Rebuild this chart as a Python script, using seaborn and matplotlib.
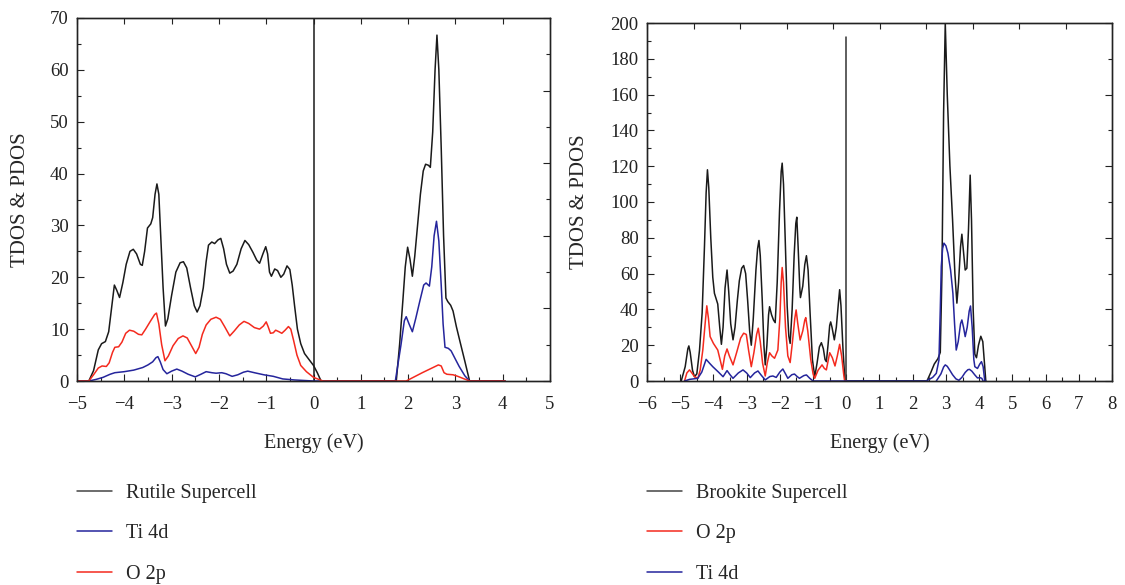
import matplotlib
matplotlib.use("Agg")
import matplotlib.pyplot as plt
from matplotlib.ticker import MultipleLocator, NullFormatter
from matplotlib.lines import Line2D
import seaborn as sns
import pandas as pd

# ---------------- data (Energy eV, DOS) ----------------
rutile_total = [(-5.0, 0), (-4.75, 0), (-4.65, 2.0), (-4.55, 6.0), (-4.48, 7.2), (-4.40, 7.6), (-4.33, 9.5),
    (-4.27, 14), (-4.21, 18.5), (-4.16, 17.5), (-4.10, 16.1), (-4.03, 19), (-3.96, 22.5), (-3.88, 25),
    (-3.81, 25.4), (-3.74, 24.5), (-3.66, 22.5), (-3.62, 22.3), (-3.57, 25), (-3.51, 29.5), (-3.44, 30.3),
    (-3.40, 31.5), (-3.35, 36), (-3.31, 38), (-3.27, 36), (-3.23, 28), (-3.18, 18), (-3.13, 10.6),
    (-3.08, 12), (-3.00, 16.5), (-2.91, 21), (-2.82, 22.8), (-2.75, 23), (-2.68, 21.8), (-2.60, 18),
    (-2.52, 14.5), (-2.46, 13.3), (-2.40, 14.5), (-2.33, 18), (-2.27, 23), (-2.22, 26.2), (-2.15, 26.8),
    (-2.09, 26.5), (-2.02, 27.2), (-1.96, 27.5), (-1.90, 25.5), (-1.84, 22.5), (-1.77, 20.8), (-1.70, 21.2),
    (-1.62, 22.5), (-1.53, 25.5), (-1.45, 27.1), (-1.37, 26.3), (-1.28, 24.8), (-1.20, 23.3), (-1.14, 22.7),
    (-1.07, 24.5), (-1.01, 25.9), (-0.97, 24.5), (-0.93, 21), (-0.89, 20.2), (-0.82, 21.6), (-0.76, 21.3),
    (-0.69, 20.0), (-0.63, 20.6), (-0.56, 22.2), (-0.50, 21.5), (-0.45, 18.5), (-0.40, 14.5), (-0.34, 10),
    (-0.27, 7.2), (-0.19, 5.3), (-0.10, 4.2), (0.0, 3.0), (0.08, 1.6), (0.16, 0), (1.75, 0), (1.82, 7),
    (1.89, 15.6), (1.94, 22), (1.99, 25.8), (2.04, 23.5), (2.09, 20.2), (2.14, 24), (2.20, 30), (2.26, 36),
    (2.32, 40.5), (2.37, 41.8), (2.43, 41.6), (2.47, 41.2), (2.52, 48), (2.57, 60), (2.61, 66.7), (2.65, 60),
    (2.70, 45), (2.75, 28), (2.80, 16), (2.84, 15.3), (2.90, 14.6), (2.95, 13.5), (3.02, 10.5), (3.10, 7.5),
    (3.20, 3.8), (3.30, 0), (4.05, 0)]

rutile_ti4d = [(-5.0, 0), (-4.75, 0), (-4.6, 0.3), (-4.45, 0.7), (-4.30, 1.3), (-4.20, 1.6), (-4.00, 1.8),
    (-3.80, 2.1), (-3.61, 2.6), (-3.50, 3.1), (-3.40, 3.7), (-3.33, 4.5), (-3.29, 4.7), (-3.24, 3.7),
    (-3.18, 2.2), (-3.10, 1.4), (-3.00, 1.9), (-2.89, 2.3), (-2.78, 1.9), (-2.65, 1.3), (-2.50, 0.8),
    (-2.38, 1.3), (-2.27, 1.8), (-2.15, 1.6), (-2.06, 1.5), (-1.94, 1.6), (-1.85, 1.4), (-1.72, 0.9),
    (-1.60, 1.2), (-1.48, 1.7), (-1.39, 1.9), (-1.25, 1.6), (-1.05, 1.2), (-0.85, 0.9), (-0.65, 0.4),
    (-0.40, 0.2), (0.0, 0), (1.73, 0), (1.85, 7), (1.92, 11.6), (1.96, 12.4), (2.02, 11), (2.09, 9.5),
    (2.16, 12), (2.25, 15.5), (2.33, 18.5), (2.38, 18.9), (2.45, 18.3), (2.50, 22), (2.55, 28), (2.60, 30.8),
    (2.65, 27), (2.70, 18.5), (2.74, 11), (2.78, 6.5), (2.85, 6.3), (2.91, 5.8), (3.00, 4.2), (3.08, 2.8),
    (3.20, 1.0), (3.30, 0), (4.05, 0)]

rutile_o2p = [(-5.0, 0), (-4.75, 0), (-4.65, 1.2), (-4.55, 2.5), (-4.47, 2.9), (-4.38, 2.8), (-4.32, 3.5),
    (-4.25, 5.5), (-4.20, 6.5), (-4.12, 6.6), (-4.05, 7.5), (-3.97, 9.2), (-3.89, 9.8), (-3.80, 9.6),
    (-3.70, 9.0), (-3.63, 8.9), (-3.55, 10), (-3.45, 11.5), (-3.36, 12.8), (-3.32, 13.1), (-3.27, 11),
    (-3.21, 7), (-3.14, 3.9), (-3.07, 4.8), (-2.97, 6.8), (-2.86, 8.2), (-2.76, 8.7), (-2.67, 8.3),
    (-2.58, 6.8), (-2.49, 5.3), (-2.42, 6.5), (-2.35, 9), (-2.27, 10.8), (-2.17, 11.9), (-2.06, 12.3),
    (-1.97, 11.9), (-1.88, 10.5), (-1.77, 8.7), (-1.68, 9.6), (-1.57, 10.8), (-1.47, 11.5), (-1.37, 11.1),
    (-1.25, 10.3), (-1.14, 10.0), (-1.06, 10.6), (-1.00, 11.4), (-0.96, 10.5), (-0.91, 9.2), (-0.85, 9.3),
    (-0.80, 9.8), (-0.73, 9.5), (-0.67, 9.2), (-0.60, 9.8), (-0.53, 10.5), (-0.48, 10), (-0.42, 7.8),
    (-0.35, 5.0), (-0.27, 3.0), (-0.15, 1.8), (0.0, 0.7), (0.2, 0), (1.96, 0), (2.30, 1.6), (2.55, 2.7),
    (2.64, 3.1), (2.70, 2.9), (2.76, 1.6), (2.82, 1.3), (2.95, 1.2), (3.05, 0.9), (3.30, 0), (4.05, 0)]

brookite_total = [(-4.97, 0), (-4.85, 8), (-4.77, 18), (-4.74, 19.6), (-4.70, 16), (-4.63, 6), (-4.57, 2.4),
    (-4.50, 4), (-4.42, 17), (-4.34, 38), (-4.27, 75), (-4.22, 105), (-4.18, 118), (-4.14, 108), (-4.08, 80),
    (-4.02, 58), (-3.97, 49), (-3.92, 46), (-3.87, 43), (-3.81, 30), (-3.76, 20.5), (-3.71, 30), (-3.65, 52),
    (-3.59, 62), (-3.54, 50), (-3.48, 32), (-3.41, 23), (-3.35, 30), (-3.28, 45), (-3.22, 56), (-3.15, 63),
    (-3.09, 64.5), (-3.03, 60), (-2.97, 45), (-2.91, 28), (-2.86, 20), (-2.80, 35), (-2.72, 62), (-2.67, 74),
    (-2.63, 78.5), (-2.59, 70), (-2.53, 45), (-2.48, 20), (-2.44, 9), (-2.39, 20), (-2.34, 37), (-2.31, 41.5),
    (-2.25, 37), (-2.19, 34), (-2.14, 32.6), (-2.08, 55), (-2.01, 95), (-1.96, 117), (-1.93, 121.7),
    (-1.89, 110), (-1.84, 80), (-1.78, 42), (-1.73, 25), (-1.69, 21), (-1.63, 40), (-1.57, 70), (-1.52, 88),
    (-1.49, 91.5), (-1.45, 75), (-1.40, 52), (-1.38, 46.6), (-1.31, 53), (-1.25, 65), (-1.20, 70),
    (-1.15, 62), (-1.09, 38), (-1.02, 12), (-0.95, 2.4), (-0.88, 10), (-0.81, 19), (-0.75, 21.4),
    (-0.69, 18), (-0.64, 12), (-0.60, 10.8), (-0.55, 20), (-0.50, 31), (-0.47, 33), (-0.43, 30),
    (-0.36, 23), (-0.30, 30), (-0.24, 43), (-0.20, 51), (-0.16, 42), (-0.10, 18), (-0.04, 0), (2.43, 0),
    (2.55, 5), (2.65, 9.5), (2.76, 12.5), (2.83, 16), (2.88, 60), (2.93, 150), (2.98, 200), (3.04, 160),
    (3.12, 120), (3.20, 90), (3.27, 60), (3.33, 43.5), (3.38, 55), (3.44, 75), (3.48, 82), (3.53, 72),
    (3.58, 62), (3.63, 63), (3.68, 85), (3.73, 115), (3.77, 90), (3.82, 40), (3.87, 15), (3.92, 13),
    (3.98, 20), (4.05, 25), (4.11, 22), (4.16, 10), (4.20, 0)]

brookite_o2p = [(-4.87, 0), (-4.80, 4.5), (-4.72, 6.2), (-4.65, 4.5), (-4.57, 2.4), (-4.47, 1.5),
    (-4.40, 6), (-4.32, 17.3), (-4.25, 32), (-4.20, 42), (-4.15, 35), (-4.10, 24.8), (-4.00, 21),
    (-3.87, 17.3), (-3.80, 12), (-3.73, 6.5), (-3.66, 14), (-3.59, 17.9), (-3.52, 14), (-3.41, 9),
    (-3.30, 16), (-3.18, 24), (-3.09, 26.7), (-3.01, 26), (-2.94, 17), (-2.86, 8), (-2.78, 16),
    (-2.70, 26), (-2.65, 29.5), (-2.59, 22), (-2.52, 10), (-2.44, 2.8), (-2.38, 10), (-2.31, 15.8),
    (-2.24, 14), (-2.16, 12.7), (-2.06, 17.3), (-2.00, 35), (-1.96, 55), (-1.93, 63.4), (-1.89, 55),
    (-1.83, 30), (-1.76, 14), (-1.69, 10.3), (-1.62, 22), (-1.55, 35), (-1.51, 39.7), (-1.46, 32),
    (-1.39, 22.9), (-1.31, 28), (-1.25, 34), (-1.22, 35.4), (-1.16, 28), (-1.07, 12), (-1.00, 4),
    (-0.95, 1.5), (-0.85, 6), (-0.73, 9), (-0.66, 7), (-0.60, 6.2), (-0.55, 11), (-0.50, 15.8),
    (-0.42, 13), (-0.34, 8.4), (-0.27, 14), (-0.20, 20.5), (-0.14, 14), (-0.08, 4), (-0.05, 0), (0.0, 0)]

brookite_ti4d = [(-4.87, 0), (-4.72, 0.9), (-4.47, 1.5), (-4.35, 5), (-4.22, 12.1), (-4.12, 10),
    (-4.02, 8), (-3.85, 5), (-3.71, 2.4), (-3.59, 5.8), (-3.50, 3.5), (-3.41, 1.5), (-3.25, 4.5),
    (-3.11, 6.2), (-3.00, 4.5), (-2.89, 1.9), (-2.76, 4.5), (-2.66, 5.6), (-2.55, 3), (-2.44, 0.6),
    (-2.30, 2.5), (-2.21, 2.8), (-2.11, 2), (-2.00, 5), (-1.91, 6.7), (-1.83, 4), (-1.76, 1.5),
    (-1.64, 3.5), (-1.56, 3.9), (-1.48, 2.5), (-1.41, 1.5), (-1.28, 3), (-1.20, 3.4), (-1.10, 1.5),
    (-1.00, 0), (2.41, 0), (2.60, 2), (2.71, 4.3), (2.79, 11.7), (2.83, 40), (2.86, 64), (2.90, 74),
    (2.94, 77), (3.00, 75.5), (3.06, 71.4), (3.14, 62), (3.21, 49), (3.26, 32), (3.31, 17.3), (3.37, 22),
    (3.44, 32), (3.48, 34.1), (3.53, 30), (3.58, 24.8), (3.64, 30), (3.70, 39), (3.74, 41.9), (3.79, 30),
    (3.84, 12), (3.87, 8), (3.95, 7), (4.02, 9.5), (4.07, 10.8), (4.12, 8), (4.17, 0), (4.20, 0)]

brookite_cb_minor = [(2.71, 0), (2.85, 4), (2.93, 7.8), (2.98, 9), (3.04, 8.2), (3.11, 6.2), (3.20, 3.5),
    (3.30, 1.2), (3.39, 0.4), (3.48, 2), (3.58, 4.8), (3.66, 6.3), (3.71, 6.5), (3.78, 5.5), (3.87, 3.4),
    (3.95, 1.7), (4.02, 1.9), (4.08, 1.5), (4.12, 0)]

fermi_energy = 0.0
fermi_line_top = {"rutile": 70, "brookite": 192}

labels_rutile = ["Rutile Supercell", "Ti 4d", "O 2p"]
labels_brookite = ["Brookite Supercell", "O 2p", "Ti 4d"]

c_black = "#1a1a1a"
c_red = "#f42a1e"
c_blue = "#25259c"

# ---------------- style ----------------
sns.set_style("ticks")
plt.rcParams["font.family"] = ["Liberation Serif", "DejaVu Serif"]
plt.rcParams.update({
    "xtick.direction": "in", "ytick.direction": "in",
    "xtick.major.size": 5, "ytick.major.size": 5,
    "xtick.minor.size": 3, "ytick.minor.size": 3,
    "xtick.major.width": 0.8, "ytick.major.width": 0.8,
    "xtick.minor.width": 0.8, "ytick.minor.width": 0.8,
    "axes.linewidth": 0.9,
    "xtick.color": "#222222", "ytick.color": "#222222",
    "axes.edgecolor": "#222222",
    "xtick.labelsize": 13.5, "ytick.labelsize": 13.5,
})

fig = plt.figure(figsize=(11.25, 5.85), dpi=100)
axL = fig.add_axes([77 / 1125, 1 - 381 / 585, 473 / 1125, 363 / 585])
axR = fig.add_axes([647 / 1125, 1 - 381 / 585, 465 / 1125, 358 / 585])


def draw(ax, series, color, lw=1.1):
    df = pd.DataFrame(series, columns=["E", "DOS"])
    sns.lineplot(data=df, x="E", y="DOS", ax=ax, color=color, lw=lw, sort=False,
                 estimator=None, legend=False)


# left panel (rutile): black, blue, red on top
draw(axL, rutile_total, c_black)
axL.plot([fermi_energy, fermi_energy], [0, fermi_line_top["rutile"]], color=c_black, lw=1.1)
draw(axL, rutile_ti4d, c_blue)
draw(axL, rutile_o2p, c_red)

# right panel (brookite): black, red, blue on top
draw(axR, brookite_total, c_black)
axR.plot([fermi_energy, fermi_energy], [0, fermi_line_top["brookite"]], color="#333333", lw=1.1)
draw(axR, brookite_o2p, c_red)
draw(axR, brookite_ti4d, c_blue)
draw(axR, brookite_cb_minor, c_blue)


def style_axis(ax, xlim, ylim, xmaj, ymaj, ymin_step):
    ax.set_xlim(*xlim)
    ax.set_ylim(*ylim)
    ax.xaxis.set_major_locator(MultipleLocator(xmaj))
    ax.xaxis.set_minor_locator(MultipleLocator(0.5))
    ax.yaxis.set_major_locator(MultipleLocator(ymaj))
    ax.yaxis.set_minor_locator(MultipleLocator(ymin_step))
    ax.tick_params(axis="x", which="both", pad=11)
    ax.tick_params(axis="y", which="both", pad=6)
    ax.set_xlabel("Energy (eV)", fontsize=14.5)
    ax.set_ylabel("TDOS & PDOS", fontsize=15)
    for s in ax.spines.values():
        s.set_visible(True)
    # top and right frame ticks: ten divisions each
    tx = ax.twiny()
    tx.set_xlim(0, 10)
    tx.xaxis.set_major_locator(MultipleLocator(1))
    tx.xaxis.set_major_formatter(NullFormatter())
    tx.tick_params(axis="x", which="major", length=4.5, direction="in")
    ty = ax.twinx()
    ty.set_ylim(0, 10)
    ty.yaxis.set_major_locator(MultipleLocator(2))
    ty.yaxis.set_minor_locator(MultipleLocator(1))
    ty.yaxis.set_major_formatter(NullFormatter())
    ty.tick_params(axis="y", which="major", length=5, direction="in")
    ty.tick_params(axis="y", which="minor", length=3, direction="in")


style_axis(axL, (-5, 5), (0, 70), 1, 10, 5)
style_axis(axR, (-6, 8), (0, 200), 1, 20, 10)

axL.xaxis.set_label_coords(0.5, -0.143)
axR.xaxis.set_label_coords(0.5, -0.145)
axL.yaxis.set_label_coords(-0.099, 0.5)
axR.yaxis.set_label_coords(-0.125, 0.5)

# legends below each panel
hL = [Line2D([], [], color=c, lw=1.1) for c in ("#444444", c_blue, c_red)]
hR = [Line2D([], [], color=c, lw=1.1) for c in ("#444444", c_red, c_blue)]
leg_kw = dict(loc="upper left", bbox_transform=fig.transFigure, frameon=False, fontsize=14.5,
              handlelength=1.75, handletextpad=0.7, labelspacing=1.05, borderpad=0, borderaxespad=0)
fig.legend(hL, labels_rutile, bbox_to_anchor=(77 / 1125, 1 - 484 / 585), **leg_kw)
fig.legend(hR, labels_brookite, bbox_to_anchor=(647 / 1125, 1 - 484 / 585), **leg_kw)

fig.savefig("out.png", dpi=100)
